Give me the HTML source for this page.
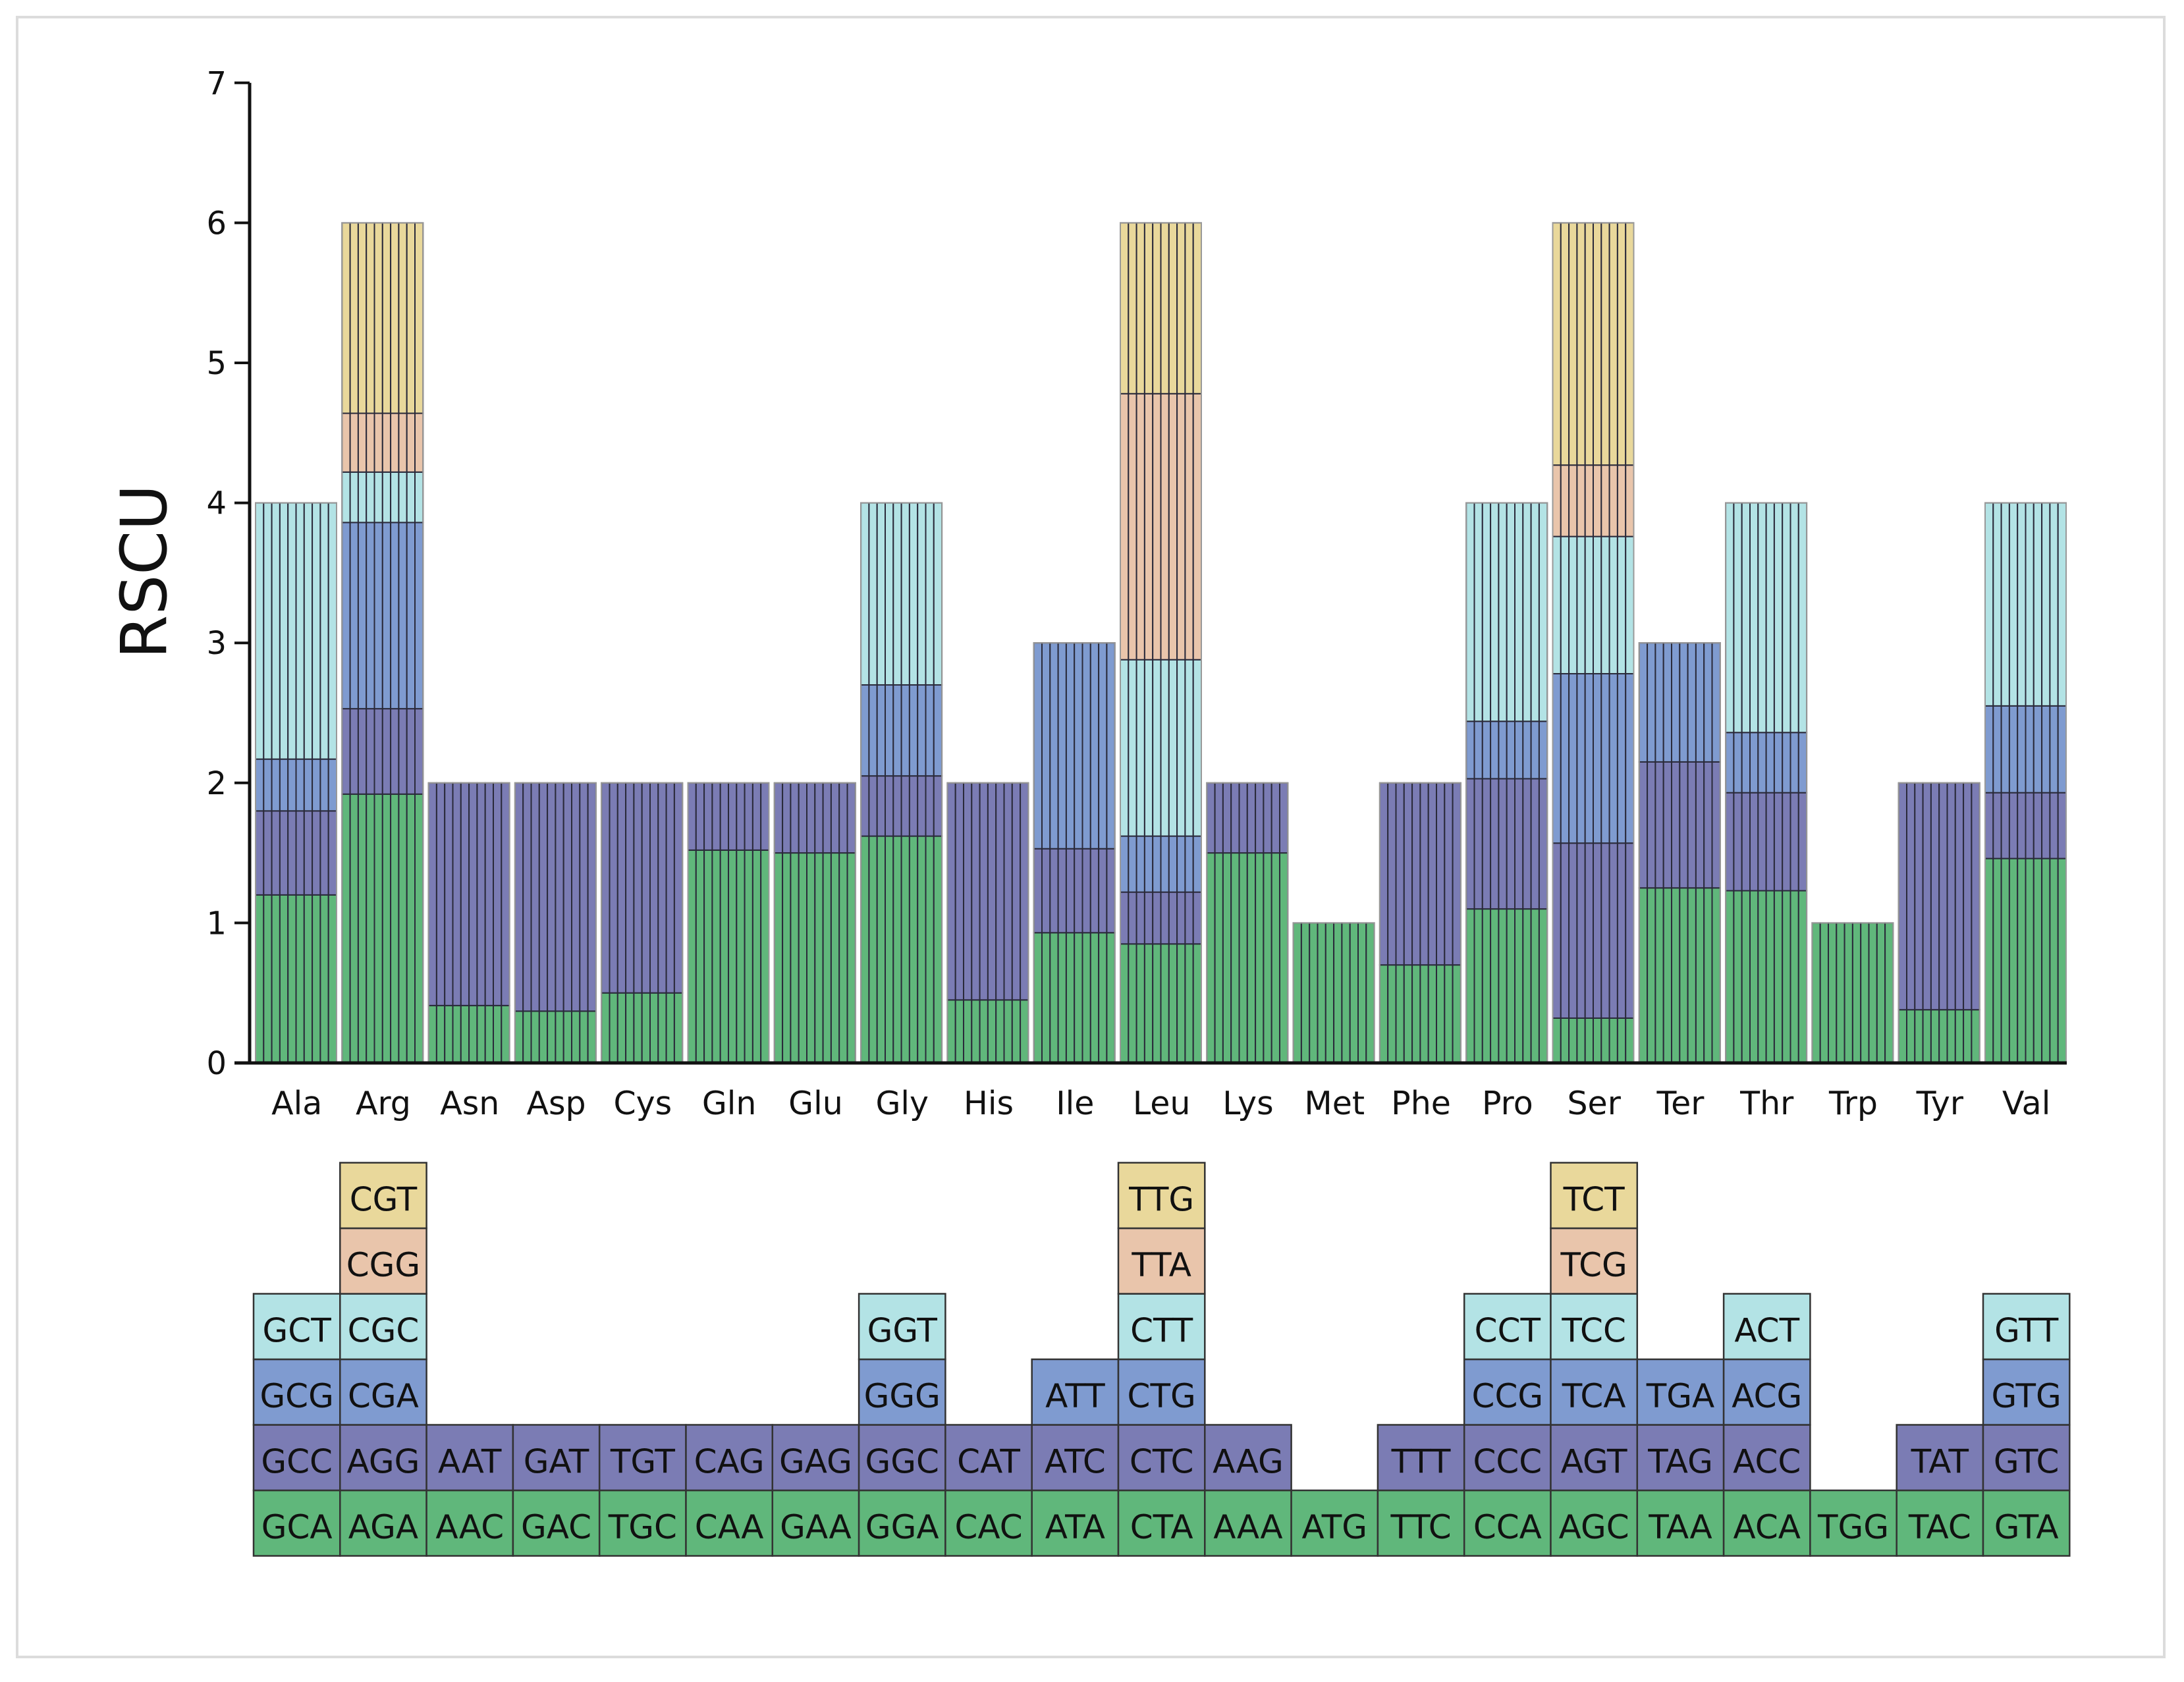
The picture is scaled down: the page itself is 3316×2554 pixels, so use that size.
<!DOCTYPE html>
<html><head><meta charset="utf-8"><style>
html,body{margin:0;padding:0;background:#fff;}
svg{display:block;}
text{font-family:"DejaVu Sans","Liberation Sans",sans-serif;fill:#111;}
</style></head><body>
<svg id="chart" width="3316" height="2554" viewBox="0 0 3316 2554" xmlns="http://www.w3.org/2000/svg">
<rect x="26" y="26" width="3260" height="2490" fill="#fff" stroke="#dcdcdc" stroke-width="4"/>
<g id="bars"></g>
<g id="axes"></g>
<g id="table"></g>
<text x="0" y="0" transform="translate(252,868) rotate(-90)" text-anchor="middle" font-size="96">RSCU</text>
</svg>
<script>
const aminoAcids = ["Ala","Arg","Asn","Asp","Cys","Gln","Glu","Gly","His","Ile","Leu","Lys","Met","Phe","Pro","Ser","Ter","Thr","Trp","Tyr","Val"];
const codons = [
 ["GCA","GCC","GCG","GCT"],
 ["AGA","AGG","CGA","CGC","CGG","CGT"],
 ["AAC","AAT"],["GAC","GAT"],["TGC","TGT"],["CAA","CAG"],["GAA","GAG"],
 ["GGA","GGC","GGG","GGT"],["CAC","CAT"],["ATA","ATC","ATT"],
 ["CTA","CTC","CTG","CTT","TTA","TTG"],["AAA","AAG"],["ATG"],["TTC","TTT"],
 ["CCA","CCC","CCG","CCT"],["AGC","AGT","TCA","TCC","TCG","TCT"],
 ["TAA","TAG","TGA"],["ACA","ACC","ACG","ACT"],["TGG"],["TAC","TAT"],
 ["GTA","GTC","GTG","GTT"]
];
const rscu = [
 [1.20,0.60,0.37,1.83],
 [1.92,0.61,1.33,0.36,0.42,1.36],
 [0.41,1.59],[0.37,1.63],[0.50,1.50],[1.52,0.48],[1.50,0.50],
 [1.62,0.43,0.65,1.30],[0.45,1.55],[0.93,0.60,1.47],
 [0.85,0.37,0.40,1.26,1.90,1.22],[1.50,0.50],[1.00],[0.70,1.30],
 [1.10,0.93,0.41,1.56],[0.32,1.25,1.21,0.98,0.51,1.73],
 [1.25,0.90,0.85],[1.23,0.70,0.43,1.64],[1.00],[0.38,1.62],
 [1.46,0.47,0.62,1.45]
];
const yTicks = [0,1,2,3,4,5,6,7];
const layerColors = ["#60b77b","#7b7cb4","#7f9bd0","#b3e3e5","#e9c5ab","#e9d89b"];
const NS = "http://www.w3.org/2000/svg";
const y0 = 1614, yUnit = 212.6, colLeft = 385, colW = 131.3, nStripes = 10;
function yScale(v){ return y0 - v*yUnit; }
function xCol(i){ return colLeft + i*colW; }
function mk(tag, attrs, parent){ const e=document.createElementNS(NS,tag); for(const k in attrs) e.setAttribute(k,attrs[k]); parent.appendChild(e); return e; }
const gB=document.getElementById('bars'), gA=document.getElementById('axes'), gT=document.getElementById('table');
aminoAcids.forEach((aa,i)=>{
  const bx = xCol(i)+3, bw = 123, sw = bw/nStripes;
  let cum = 0;
  rscu[i].forEach((v,j)=>{
    for(let s=0;s<nStripes;s++){
      const r = mk('rect',{x:bx+s*sw,y:yScale(cum+v),width:sw,height:v*yUnit,fill:layerColors[j],stroke:"#2a2a3a","stroke-width":2},gB);
      
      
    }
    cum += v;
  });
  const out = mk('rect',{x:bx,y:yScale(cum),width:bw,height:cum*yUnit,fill:"none",stroke:"#999","stroke-width":2},gB);
  
  
  const t = mk('text',{x:xCol(i)+colW/2,y:1692,"text-anchor":"middle","font-size":49},gA);
  t.textContent = aa;
  
  
  codons[i].forEach((c,j)=>{
    const top = 2263 - j*99.5;
    const cell = mk('rect',{x:xCol(i),y:top,width:colW,height:99.5,fill:layerColors[j],stroke:"#333","stroke-width":2.5},gT);
    
    
    const ct = mk('text',{x:xCol(i)+colW/2,y:top+73,"text-anchor":"middle","font-size":50},gT);
    ct.textContent = c;
    
    
  });
});
const yl = mk('line',{x1:379,y1:yScale(7),x2:379,y2:y0+2,stroke:"#111","stroke-width":5},gA);


const xl = mk('line',{x1:356,y1:y0,x2:3138,y2:y0,stroke:"#111","stroke-width":5},gA);


yTicks.forEach(v=>{
  const tk = mk('line',{x1:356,y1:yScale(v),x2:379,y2:yScale(v),stroke:"#111","stroke-width":4},gA);
  
  
  const tl = mk('text',{x:344,y:yScale(v)+17,"text-anchor":"end","font-size":48},gA);
  tl.textContent = v;
  
  
});
</script>
</body></html>
